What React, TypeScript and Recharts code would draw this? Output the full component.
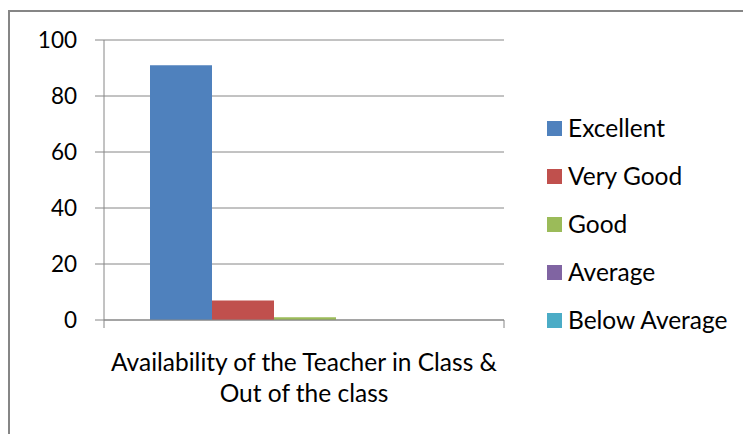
import React from 'react';
import { BarChart, Bar, XAxis, YAxis, CartesianGrid } from 'recharts';

const categories = ['Availability of the Teacher in Class &\nOut of the class'];
const seriesNames = ['Excellent', 'Very Good', 'Good', 'Average', 'Below Average'];
const seriesKeys = ['excellent', 'veryGood', 'good', 'average', 'belowAverage'];
const seriesValues = [[91], [7], [1], [0], [0]];
const seriesColors = ['#4F81BD', '#C0504D', '#9BBB59', '#8064A2', '#4BACC6'];
const yTicks = [0, 20, 40, 60, 80, 100];

const W = 743;
const H = 434;
const Y_AXIS_W = 104;
const MARGIN = { top: 40, right: 239, bottom: 0, left: 0 };
const PLOT_W = W - MARGIN.left - MARGIN.right - Y_AXIS_W;
const AXIS_GRAY = '#868686';
const FONT = 'Lato, "Open Sans", sans-serif';
const TEXT_SIZE = 24.5;

const data = categories.map((name, i) => {
  const row: Record<string, string | number> = { name };
  seriesKeys.forEach((k, s) => { row[k] = seriesValues[s][i]; });
  return row;
});

// category label on two lines + Excel style edge ticks at the band edges
const CategoryTick = ({ x, y, payload }: any) => {
  const half = PLOT_W / categories.length / 2;
  const lines = String(payload.value).split('\n');
  const axisY = y - 12;
  return (
    <g>
      <line x1={x - half} x2={x - half} y1={axisY} y2={axisY + 8} stroke={AXIS_GRAY} />
      <line x1={x + half} x2={x + half} y1={axisY} y2={axisY + 8} stroke={AXIS_GRAY} />
      <text x={x} textAnchor="middle" fill="#000" fontSize={TEXT_SIZE} fontFamily={FONT}>
        {lines.map((l, i) => (
          <tspan key={i} x={x} y={axisY + 51 + i * 31}>{l}</tspan>
        ))}
      </text>
    </g>
  );
};

export default function App() {
  return (
    <div style={{ position: 'absolute', left: 0, top: 0, width: W, height: H, overflow: 'hidden', background: '#fff' }}>
      <div style={{ position: 'absolute', left: 8, top: 10, width: W, height: H, borderTop: `2px solid ${AXIS_GRAY}`, borderLeft: `2px solid ${AXIS_GRAY}` }} />
      <div style={{ position: 'absolute', left: 0, top: 0 }}>
        <BarChart width={W} height={H} data={data} margin={MARGIN} barGap={0} barCategoryGap="11.5%">
          <CartesianGrid vertical={false} stroke={AXIS_GRAY} />
          <XAxis
            dataKey="name"
            height={H - 320}
            axisLine={{ stroke: AXIS_GRAY }}
            tickLine={false}
            tick={<CategoryTick />}
            interval={0}
            tickMargin={12}
            tickSize={0}
          />
          <YAxis
            width={Y_AXIS_W}
            domain={[0, 100]}
            ticks={yTicks}
            interval={0}
            axisLine={{ stroke: AXIS_GRAY }}
            tickLine={{ stroke: AXIS_GRAY }}
            tickSize={9}
            tickMargin={18}
            tick={{ fill: '#000', fontSize: 22.5, fontFamily: FONT }}
          />
          {seriesKeys.map((k, s) => (
            <Bar key={k} dataKey={k} name={seriesNames[s]} fill={seriesColors[s]} isAnimationActive={false} />
          ))}
        </BarChart>
      </div>
      <div style={{ position: 'absolute', left: 547, top: 115, fontFamily: FONT, fontSize: TEXT_SIZE, color: '#000' }}>
        {seriesNames.map((n, s) => (
          <div key={n} style={{ display: 'flex', alignItems: 'center', height: 26, marginBottom: 22 }}>
            <span style={{ width: 15, height: 15, background: seriesColors[s], marginRight: 6, display: 'inline-block' }} />
            <span style={{ lineHeight: '26px', whiteSpace: 'nowrap' }}>{n}</span>
          </div>
        ))}
      </div>
    </div>
  );
}
